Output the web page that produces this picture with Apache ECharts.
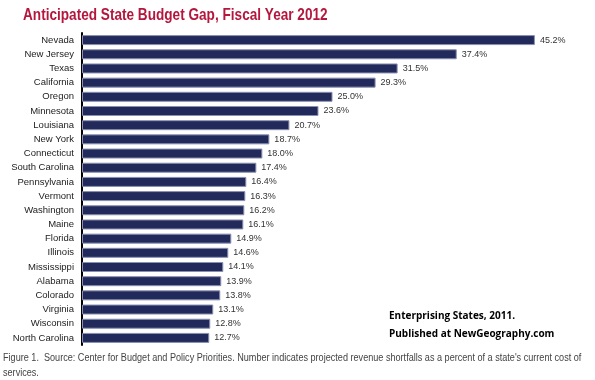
<!DOCTYPE html>
<html><head><meta charset="utf-8">
<script src="https://cdn.jsdelivr.net/npm/echarts@6/dist/echarts.min.js"></script>
<style>html,body{margin:0;padding:0;background:#fff}#c{width:595px;height:380px}</style>
</head><body><div id="c"></div>
<script>
const states = ["Nevada","New Jersey","Texas","California","Oregon","Minnesota","Louisiana","New York","Connecticut","South Carolina","Pennsylvania","Vermont","Washington","Maine","Florida","Illinois","Mississippi","Alabama","Colorado","Virginia","Wisconsin","North Carolina"];
const gaps = [45.2,37.4,31.5,29.3,25.0,23.6,20.7,18.7,18.0,17.4,16.4,16.3,16.2,16.1,14.9,14.6,14.1,13.9,13.8,13.1,12.8,12.7];
const titleText = "Anticipated State Budget Gap, Fiscal Year 2012";
const noteLines = ["Enterprising States, 2011.","Published at NewGeography.com"];
const footerLines = ["Figure 1.  Source: Center for Budget and Policy Priorities. Number indicates projected revenue shortfalls as a percent of a state's current cost of","services."];

const chart = echarts.init(document.getElementById('c'), null, {renderer:'canvas'});
chart.setOption({
  animation:false,
  backgroundColor:'#fff',
  grid:{left:82,top:33,width:501,height:312},
  xAxis:{type:'value',min:0,max:50,show:false},
  yAxis:{type:'category',data:states,inverse:true,
    axisLine:{show:true,lineStyle:{color:'#000',width:2}},
    axisTick:{show:false},
    axisLabel:{interval:0,fontFamily:'Liberation Sans',fontSize:9.5,color:'#222',margin:8}},
  series:[{type:'bar',data:gaps,barWidth:10,
    itemStyle:{color:'#222a5c',borderColor:'#8a90b0',borderWidth:1},
    label:{show:true,position:'right',distance:5,fontFamily:'Liberation Sans',fontSize:9,color:'#333',
      formatter:p=>p.value.toFixed(1)+'%'}}],
  graphic:[
    {type:'text',x:23,y:7,scaleX:0.8,style:{text:titleText,font:'bold 17px "Liberation Sans"',fill:'#b5173c',textVerticalAlign:'top'}},
    {type:'text',x:389,y:307,style:{text:noteLines.join('\n'),font:'bold 10px "Open Sans"',lineHeight:18,fill:'#000',textVerticalAlign:'top'}},
    {type:'text',x:3,y:351,scaleX:0.91,style:{text:footerLines.join('\n'),font:'10px "Liberation Sans"',lineHeight:15,fill:'#444',textVerticalAlign:'top'}}
  ]
});
</script></body></html>
